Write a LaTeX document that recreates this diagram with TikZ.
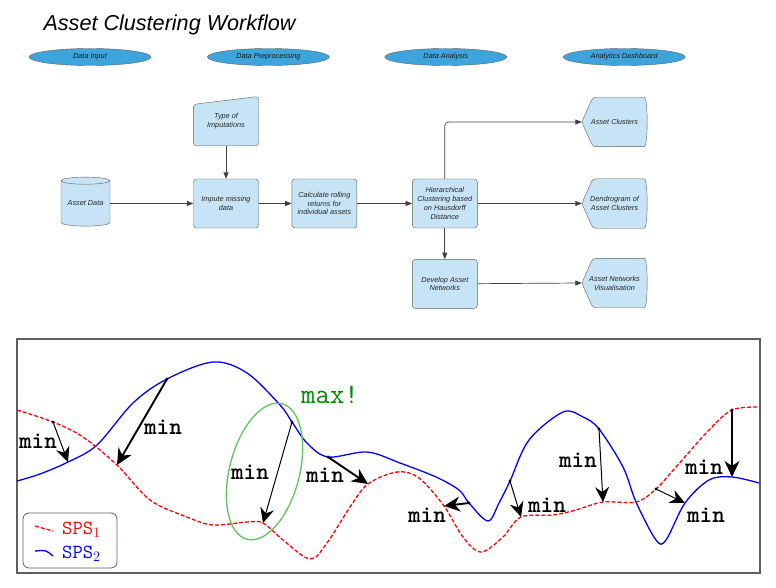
\documentclass[tikz,border=0pt]{standalone}
\usepackage{fontspec}
\newfontfamily\lucid{Liberation Sans}
\usepackage{tikz}
\usetikzlibrary{arrows.meta}
\usetikzlibrary{shapes.geometric,backgrounds}
\usetikzlibrary{positioning}

\definecolor{boxfill}{RGB}{198,228,245}
\definecolor{lanefill}{RGB}{61,165,220}
\definecolor{edgegray}{RGB}{95,95,95}
\definecolor{maxgreen}{RGB}{0,140,0}
\definecolor{ringgreen}{RGB}{95,195,95}

\tikzset{
	lane/.style={ellipse, draw=edgegray, fill=lanefill, minimum width=122pt, minimum height=17pt, inner sep=0pt,
		font=\lucid\itshape\fontsize{7.3}{8.8}\selectfont, text=black!90},
	proc/.style={rectangle, rounded corners=3pt, draw=edgegray, fill=boxfill, minimum width=65pt, minimum height=49pt,
		align=center, font=\lucid\itshape\fontsize{7.3}{8.8}\selectfont, text=black!85},
	plain/.style={rectangle, minimum width=65pt, minimum height=49pt, inner sep=2pt,
		align=center, font=\lucid\itshape\fontsize{7.3}{8.8}\selectfont, text=black!85},
	store/.style={cylinder, shape border rotate=90, aspect=0.2, draw=edgegray, fill=boxfill,
		minimum width=49pt, minimum height=49pt, inner sep=0pt,
		font=\lucid\itshape\fontsize{7.3}{8.8}\selectfont, text=black!85},
	shapeline/.style={draw=edgegray, fill=boxfill, rounded corners=3pt},
	flow/.style={draw=black!75, line width=0.7pt, -{Triangle[length=6.5pt,width=5pt]}},
	sps1/.style={red, line width=1.3pt, dash pattern=on 4pt off 2pt},
	sps2/.style={blue, line width=1.3pt},
	minarrow/.style={black, line width=1.9pt, -{Stealth[length=16pt,width=15pt,inset=5pt]}},
	minthin/.style={black, line width=1pt, -{Stealth[length=15pt,width=14pt,inset=5pt]}},
	minlabel/.style={font=\ttfamily\bfseries\fontsize{24}{24}\selectfont, inner sep=0pt},
}

% display shape: pointed left side, bulging right side
\newcommand{\dispbox}[1]{
	\draw[shapeline] (#1.west) -- ([xshift=11pt]#1.north west) -- ([xshift=-6pt]#1.north east)
		.. controls ([xshift=1pt]#1.north east) and ([xshift=1pt]#1.south east) .. ([xshift=-6pt]#1.south east)
		-- ([xshift=11pt]#1.south west) -- cycle;
}

\begin{document}
\begin{tikzpicture}[x=1pt, y=-1pt]
	\useasboundingbox (0,0) rectangle (776,588);

	\node[anchor=base west, font=\lucid\itshape\fontsize{21.6}{24}\selectfont] (title) at (40,31) {Asset Clustering Workflow};

	% swimlane headers
	\node[lane] (input) at (90,57) {Data Input};
	\node[lane, right=56pt of input] (prep) {Data Preprocessing};
	\node[lane, right=55pt of prep] (analysis) {Data Analysis};
	\node[lane, right=56pt of analysis] (dash) {Analytics Dashboard};

	\node[store] (data) at (85.5,203.5) {Asset Data};
	\node[proc] (impute) at (226,203.5) {Impute missing\\data};
	\node[plain, above=33pt of impute] (types) {Type of\\Imputations};
	\node[proc, right=33pt of impute] (rolling) {Calculate rolling\\returns for\\individual assets};
	\node[proc, right=55pt of rolling] (hier) {Hierarchical\\Clustering based\\on Hausdorff\\Distance};
	\node[proc, below=31pt of hier] (develop) {Develop Asset\\Networks};
	\node[plain] (clusters) at (614.5,122) {Asset Clusters};
	\node[plain] (dendro) at (614.5,203.5) {Dendrogram of\\Asset Clusters};
	\node[plain] (networks) at (614.5,283) {Asset Networks\\Visualisation};

	\begin{scope}[on background layer]
		\draw[shapeline] (types.south west) -- ([yshift=-8pt]types.north west) -- (types.north east) -- (types.south east) -- cycle;
		\dispbox{clusters}
		\dispbox{dendro}
		\dispbox{networks}
	\end{scope}

	\draw[flow] (types) -- (impute);
	\draw[flow] (data) -- (impute);
	\draw[flow] (impute) -- (rolling);
	\draw[flow] (rolling) -- (hier);
	\draw[flow, rounded corners=4pt] (hier.north) |- (clusters.west);
	\draw[flow] (hier) -- (dendro.west);
	\draw[flow] (hier) -- (develop);
	\draw[flow] (develop) -- (networks.west);

	% distance plot
	\draw[edgegray, line width=1.2pt] (17,339) rectangle (760,573);

	\coordinate (r1) at (53,422);  \coordinate (b1) at (68,462);
	\coordinate (b2) at (167,379); \coordinate (r2) at (117,465);
	\coordinate (b3) at (292,422); \coordinate (r3) at (263,523);
	\coordinate (b4) at (328,457); \coordinate (r4) at (368,484);
	\coordinate (b5) at (469,503); \coordinate (r5) at (444,506);
	\coordinate (b6) at (510,481); \coordinate (r6) at (521,517);
	\coordinate (b7) at (599,429); \coordinate (r7) at (603,502);
	\coordinate (r8) at (656,489); \coordinate (b8) at (685,503);
	\coordinate (r9) at (732,410); \coordinate (b9) at (732,477);

	\draw[sps2] plot[smooth, tension=0.55] coordinates {(17,481) (40,474) (b1) (97,445) (133,403) (b2) (213,362) (247,373)
		(280,405) (b3) (307,443) (b4) (367,452) (400,463) (436,477) (459,490) (b5) (488,521) (499,503) (b6) (529,440)
		(563,412) (583,417) (b7) (623,467) (636,502) (656,540) (666,540) (b8) (709,480) (b9) (759,483)};
	\draw[sps1] plot[smooth, tension=0.55] coordinates {(17,410) (r1) (83,437) (r2) (150,500) (187,517) (213,525) (247,522)
		(r3) (283,540) (310,559) (327,543) (350,507) (r4) (397,472) (419,478) (r5) (463,537) (481,552) (503,537) (r6)
		(553,515) (576,510) (r7) (636,502) (r8) (676,467) (709,430) (r9) (759,407)};

	\draw[minthin] (r1) -- (b1);
	\draw[minarrow] (b2) -- (r2);
	\draw[minthin] (b3) -- (r3);
	\draw[minarrow] (b4) -- (r4);
	\draw[minarrow] (b5) -- (r5);
	\draw[minthin] (b6) -- (r6);
	\draw[minthin] (b7) -- (r7);
	\draw[minthin] (r8) -- (b8);
	\draw[minarrow] (r9) -- (b9);
	\foreach \p in {r1,b2,b3,b4,b5,b6,b7,r8,r9}
		\fill (\p) circle (1.6pt);

	\node[minlabel] (m1) at (38,441) {min};
	\node[minlabel] (m2) at (163,427) {min};
	\node[minlabel] (m3) at (250,472) {min};
	\node[minlabel] (m4) at (325,475) {min};
	\node[minlabel] (m5) at (427,515) {min};
	\node[minlabel] (m6) at (547,505) {min};
	\node[minlabel] (m7) at (578,460) {min};
	\node[minlabel] (m8) at (706,515) {min};
	\node[minlabel] (m9) at (704,467) {min};
	\node[minlabel, font=\ttfamily\fontsize{28}{28}\selectfont, text=maxgreen] (max) at (330,395) {max!};
	\draw[ringgreen, line width=1.3pt, rotate around={-14.5:(264.5,471.5)}] (264.5,471.5) ellipse [x radius=35, y radius=70];

	% legend
	\draw[edgegray, line width=0.8pt, rounded corners=6pt] (23,513) rectangle (117,568);
	\draw[sps1] (35,526) -- (53,531);
	\draw[sps2] (35,551) .. controls (46,550) .. (53,556);
	\node[anchor=west, font=\ttfamily\fontsize{20}{20}\selectfont, text=red, inner sep=0pt] (sps1key) at (62,530) {SPS$_1$};
	\node[anchor=west, font=\ttfamily\fontsize{20}{20}\selectfont, text=blue, inner sep=0pt] (sps2key) at (62,554) {SPS$_2$};
\end{tikzpicture}
\end{document}
